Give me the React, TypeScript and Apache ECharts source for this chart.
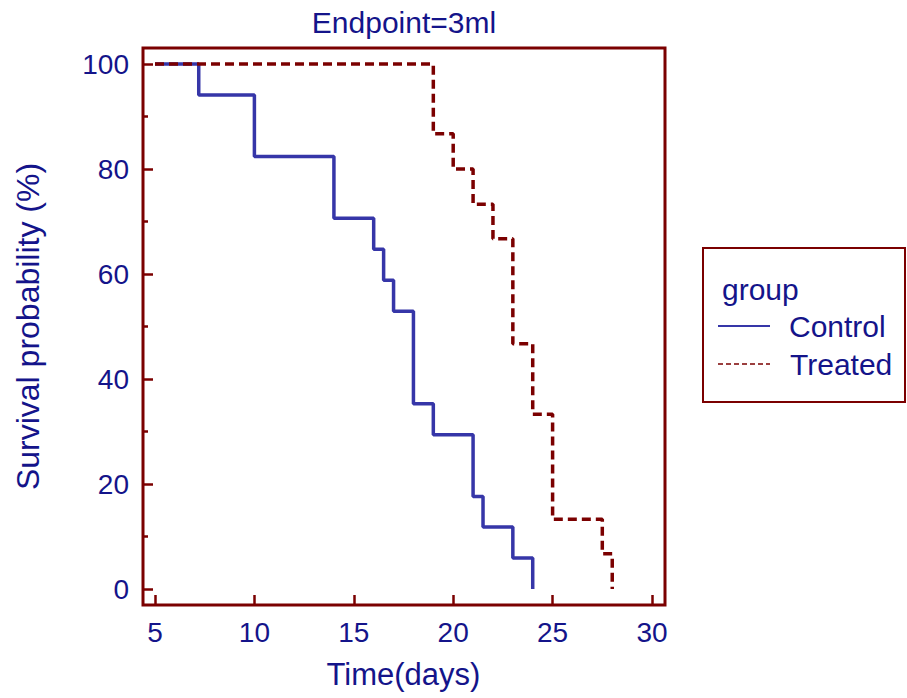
import React, { useEffect, useRef } from "react";
import * as echarts from "echarts";

const controlTimes = [5, 7.2, 10, 14, 16, 16.5, 17, 18, 19, 21, 21.5, 23, 24];
const controlSurvival = [100, 94.1, 82.4, 70.6, 64.7, 58.8, 52.9, 35.3, 29.4, 17.6, 11.8, 5.9, 0];
const treatedTimes = [5, 19, 20, 21, 22, 23, 24, 25, 27.5, 28];
const treatedSurvival = [100, 86.7, 80, 73.3, 66.7, 46.7, 33.3, 13.3, 6.7, 0];
const groupNames = ["Control", "Treated"];
const xTicks = { min: 5, max: 30, interval: 5 };
const yTicks = { min: 0, max: 100, interval: 20 };

const FONT = "'Liberation Sans', Arial, Helvetica, sans-serif";
const NAVY = "#14148a";
const BLUE = "#3636a8";
const RED = "#7b0000";

export default function App() {
  const ref = useRef<HTMLDivElement>(null);
  useEffect(() => {
    if (!ref.current) return;
    const chart = echarts.init(ref.current, null, { renderer: "svg" });
    const control = controlTimes.map((t, i) => [t, controlSurvival[i]]);
    const treated = treatedTimes.map((t, i) => [t, treatedSurvival[i]]);
    const tickStyle = { color: RED, width: 2.5 };
    chart.setOption({
      animation: false,
      backgroundColor: "#ffffff",
      textStyle: { fontFamily: FONT },
      grid: [
        // data area
        { left: 155, right: 255, top: 64, bottom: 109 },
        // x-axis ticks along the bottom edge of the frame
        { left: 155, right: 255, top: 48, bottom: 93 },
        // y-axis ticks along the left edge of the frame
        { left: 143, right: 242, top: 64, bottom: 109 },
      ],
      xAxis: [
        { gridIndex: 0, type: "value", min: xTicks.min, max: xTicks.max, interval: xTicks.interval, show: false },
        {
          gridIndex: 1,
          type: "value",
          min: xTicks.min,
          max: xTicks.max,
          interval: xTicks.interval,
          axisLine: { show: false },
          axisTick: { show: true, inside: true, length: 10, lineStyle: tickStyle },
          axisLabel: { color: NAVY, fontSize: 28, fontFamily: FONT, margin: 13 },
          splitLine: { show: false },
          name: "Time(days)",
          nameLocation: "middle",
          nameGap: 54,
          nameTextStyle: { color: NAVY, fontSize: 31, fontFamily: FONT },
        },
        { gridIndex: 2, type: "value", min: 0, max: 1, show: false },
      ],
      yAxis: [
        { gridIndex: 0, type: "value", min: yTicks.min, max: yTicks.max, interval: yTicks.interval, show: false },
        { gridIndex: 1, type: "value", min: 0, max: 1, show: false },
        {
          gridIndex: 2,
          type: "value",
          min: yTicks.min,
          max: yTicks.max,
          interval: yTicks.interval,
          axisLine: { show: false },
          axisTick: { show: true, inside: true, length: 10, lineStyle: tickStyle },
          minorTick: { show: true, splitNumber: 2, length: 5, lineStyle: tickStyle },
          axisLabel: { color: NAVY, fontSize: 28, fontFamily: FONT, margin: 14 },
          splitLine: { show: false },
          minorSplitLine: { show: false },
          name: "Survival probability (%)",
          nameLocation: "middle",
          nameGap: 99,
          nameTextStyle: { color: NAVY, fontSize: 32, fontFamily: FONT },
        },
      ],
      series: [
        {
          name: groupNames[0],
          type: "line",
          xAxisIndex: 0,
          yAxisIndex: 0,
          step: "end",
          data: control,
          symbol: "none",
          clip: false,
          lineStyle: { color: BLUE, width: 3.5 },
          z: 2,
        },
        {
          name: groupNames[1],
          type: "line",
          xAxisIndex: 0,
          yAxisIndex: 0,
          step: "end",
          data: treated,
          symbol: "none",
          clip: false,
          lineStyle: { color: RED, width: 3.5, type: [9, 5] },
          z: 3,
        },
      ],
      graphic: [
        {
          type: "rect",
          shape: { x: 143, y: 48, width: 522, height: 557 },
          style: { fill: "none", stroke: RED, lineWidth: 3 },
          z: 10,
        },
        {
          type: "text",
          x: 404,
          y: 22,
          style: {
            text: "Endpoint=3ml",
            fill: NAVY,
            fontSize: 30,
            fontFamily: FONT,
            align: "center",
            verticalAlign: "middle",
          },
        },
        {
          type: "rect",
          shape: { x: 703, y: 248, width: 202, height: 154 },
          style: { fill: "none", stroke: RED, lineWidth: 2 },
        },
        {
          type: "text",
          x: 722,
          y: 289,
          style: { text: "group", fill: NAVY, fontSize: 30, fontFamily: FONT, align: "left", verticalAlign: "middle" },
        },
        {
          type: "line",
          shape: { x1: 718, y1: 326, x2: 770, y2: 326 },
          style: { stroke: BLUE, lineWidth: 2 },
        },
        {
          type: "text",
          x: 789,
          y: 326,
          style: { text: groupNames[0], fill: NAVY, fontSize: 30, fontFamily: FONT, align: "left", verticalAlign: "middle" },
        },
        {
          type: "line",
          shape: { x1: 718, y1: 364, x2: 770, y2: 364 },
          style: { stroke: RED, lineWidth: 1.5, lineDash: [5, 3] },
        },
        {
          type: "text",
          x: 790,
          y: 364,
          style: { text: groupNames[1], fill: NAVY, fontSize: 30, fontFamily: FONT, align: "left", verticalAlign: "middle" },
        },
      ],
    });
    return () => chart.dispose();
  }, []);
  return (
    <div
      ref={ref}
      style={{ position: "fixed", left: 0, top: 0, width: 907, height: 698, background: "#fff" }}
    />
  );
}
